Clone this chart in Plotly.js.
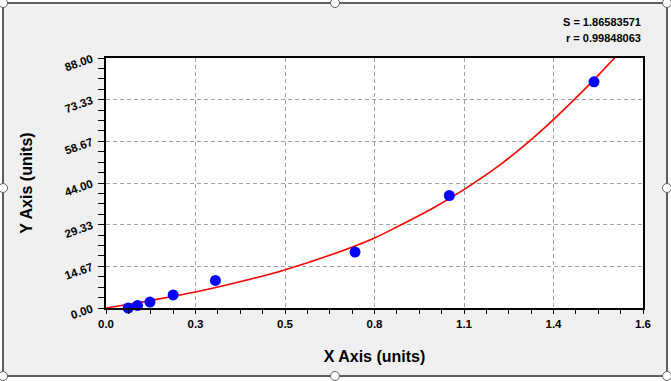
<!DOCTYPE html>
<html>
<head>
<meta charset="utf-8">
<script src="https://cdn.plot.ly/plotly-3.0.1.min.js"></script>
<style>
  html, body { margin: 0; padding: 0; background: #ffffff; width: 671px; height: 381px; overflow: hidden; }
  #frame { position: absolute; left: 2px; top: 2px; width: 662px; height: 371px; background: #f0f0f0; border: 2px solid #5f5f5f; }
  #chart { position: absolute; left: 0; top: 0; width: 671px; height: 381px; }
  .handle { position: absolute; width: 8px; height: 8px; border-radius: 50%; background: #ffffff; border: 1.5px solid #606060; z-index: 10; }
</style>
</head>
<body>
<div id="frame"></div>
<div id="chart"></div>
<script>
// Measured data points
var xData = [0.066, 0.094, 0.131, 0.200, 0.326, 0.742, 1.023, 1.454];
var yData = [0.0, 0.9, 2.1, 4.6, 9.7, 19.7, 39.6, 79.6];

// Fitted curve
var fitX = [0, 0.131, 0.266, 0.429, 0.532, 0.677, 0.797, 0.876, 0.975, 1.065, 1.174, 1.273, 1.333, 1.422, 1.472, 1.522, 1.54];
var fitY = [0, 2.6, 5.6, 10.1, 13.4, 19.0, 24.5, 29.1, 35.2, 41.6, 50.4, 59.9, 66.3, 76.5, 82.6, 88.9, 91.2];

// Tick labels
var xTickVals = [0, 0.26667, 0.53333, 0.8, 1.06667, 1.33333, 1.6];
var xTickText = ["0.0", "0.3", "0.5", "0.8", "1.1", "1.4", "1.6"];
var yTickVals = [0, 14.667, 29.333, 44, 58.667, 73.333, 88];
var yTickText = ["0.00", "14.67", "29.33", "44.00", "58.67", "73.33", "88.00"];

var statLines = ["S = 1.86583571", "r = 0.99848063"];

var FONT = "Liberation Sans, Arial, sans-serif";
var tickFont = {family: FONT, size: 11.5, color: "#000000", weight: "bold"};

var traces = [
  {
    x: fitX, y: fitY, type: "scatter", mode: "lines",
    line: {color: "#ff0000", width: 1.6, shape: "spline", smoothing: 1},
    hoverinfo: "skip", showlegend: false
  },
  {
    x: xData, y: yData, type: "scatter", mode: "markers",
    marker: {color: "#0000ff", size: 11, line: {width: 0}},
    cliponaxis: false, showlegend: false
  }
];

var layout = {
  width: 671, height: 381,
  margin: {l: 106, r: 28, t: 58, b: 73},
  paper_bgcolor: "rgba(0,0,0,0)",
  plot_bgcolor: "#ffffff",
  showlegend: false,
  xaxis: {
    range: [0, 1.6], autorange: false,
    tickmode: "array", tickvals: xTickVals, ticktext: xTickText,
    ticks: "outside", ticklen: 4, tickwidth: 1, tickcolor: "#000000",
    tickfont: tickFont,
    showline: true, linecolor: "#000000", linewidth: 2, mirror: true,
    showgrid: true, gridcolor: "#a0a0a0", gridwidth: 1, griddash: "4px,3px",
    zeroline: false,
    minor: {tickmode: "linear", tick0: 0, dtick: 1.6 / 24, ticks: "outside", ticklen: 4, tickcolor: "#000000", tickwidth: 1, showgrid: false},
    title: {text: "X Axis (units)", font: {family: FONT, size: 16, color: "#000000", weight: "bold"}, standoff: 22}
  },
  yaxis: {
    range: [0, 88], autorange: false,
    tickmode: "array", tickvals: yTickVals, ticktext: yTickText,
    ticks: "outside", ticklen: 6, tickwidth: 1, tickcolor: "#000000",
    tickfont: tickFont, tickangle: -20, ticklabelstandoff: 4,
    showline: true, linecolor: "#000000", linewidth: 2, mirror: true,
    showgrid: true, gridcolor: "#a0a0a0", gridwidth: 1, griddash: "4px,3px",
    zeroline: false,
    minor: {tickmode: "linear", tick0: 0, dtick: 88 / 24, ticks: "outside", ticklen: 6, tickcolor: "#000000", tickwidth: 1, showgrid: false},
    title: {text: "Y Axis (units)", font: {family: FONT, size: 16, color: "#000000", weight: "bold"}, standoff: 27}
  },
  annotations: [
    {
      xref: "paper", yref: "paper", x: 1, y: 1 + (58 - 22) / 250,
      xanchor: "right", yanchor: "middle", showarrow: false,
      text: statLines[0],
      font: {family: FONT, size: 11, color: "#000000", weight: "bold"}
    },
    {
      xref: "paper", yref: "paper", x: 1, y: 1 + (58 - 38) / 250,
      xanchor: "right", yanchor: "middle", showarrow: false,
      text: statLines[1],
      font: {family: FONT, size: 11, color: "#000000", weight: "bold"}
    }
  ]
};

Plotly.newPlot("chart", traces, layout, {displayModeBar: false, staticPlot: true});

// selection handles of the chart frame
var handles = [[3,3],[335,3],[667,3],[3,188],[667,188],[3,376],[335,376],[667,376]];
handles.forEach(function (h) {
  var d = document.createElement("div");
  d.className = "handle";
  d.style.left = (h[0] - 5.5) + "px";
  d.style.top = (h[1] - 5.5) + "px";
  document.body.appendChild(d);
});
</script>
</body>
</html>
